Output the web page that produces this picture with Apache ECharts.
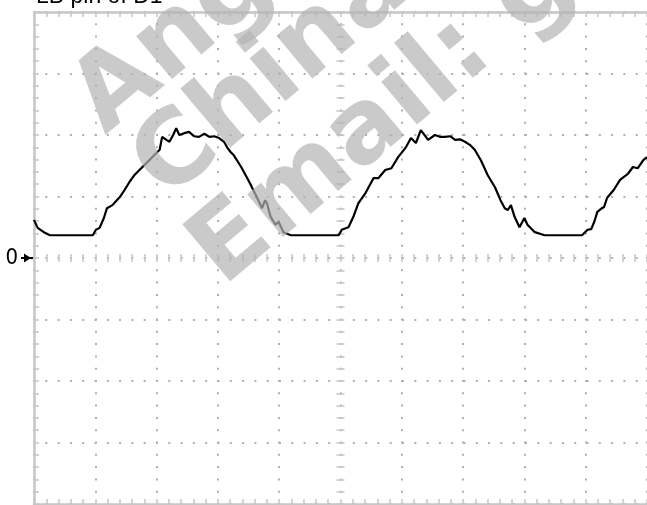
<!DOCTYPE html>
<html>
<head>
<meta charset="utf-8">
<script src="https://cdn.jsdelivr.net/npm/echarts@6/dist/echarts.min.js"></script>
<style>
  html, body { margin: 0; padding: 0; background: #fff; }
  #main { width: 647px; height: 505px; }
</style>
</head>
<body>
<div id="main"></div>
<script>
// trace, x in divisions (0..10), y in divisions (-4..4)
var traceX = [0, 0.06, 0.16, 0.26, 0.96, 1.01, 1.07, 1.14, 1.19, 1.28, 1.40, 1.48, 1.56, 1.64, 1.72, 1.80, 1.88, 1.96, 2.05, 2.09,
    2.16, 2.21, 2.27, 2.32, 2.37, 2.45, 2.53, 2.61, 2.69, 2.78, 2.86, 2.94, 3.02, 3.10, 3.15, 3.21, 3.26, 3.38, 3.51, 3.62,
    3.72, 3.77, 3.80, 3.86, 3.94, 3.99, 4.07, 4.19, 4.97, 5.02, 5.13, 5.21, 5.29, 5.41, 5.54, 5.62, 5.73, 5.83, 5.94, 6.06,
    6.15, 6.23, 6.31, 6.43, 6.54, 6.62, 6.70, 6.79, 6.87, 6.95, 7.03, 7.11, 7.19, 7.29, 7.40, 7.52, 7.61, 7.68, 7.73, 7.78,
    7.84, 7.92, 8.00, 8.05, 8.17, 8.33, 8.94, 9.03, 9.09, 9.14, 9.19, 9.25, 9.30, 9.35, 9.46, 9.56, 9.64, 9.69, 9.77, 9.85,
    9.94, 10.0];
var traceY = [0.62, 0.49, 0.42, 0.37, 0.37, 0.46, 0.49, 0.65, 0.81, 0.86, 0.99, 1.11, 1.24, 1.35, 1.43, 1.51, 1.59, 1.67, 1.76, 1.97,
    1.92, 1.89, 2.00, 2.11, 2.00, 2.03, 2.05, 1.98, 1.97, 2.02, 1.97, 1.98, 1.95, 1.89, 1.80, 1.72, 1.67, 1.48, 1.24, 1.02,
    0.81, 0.94, 0.89, 0.67, 0.54, 0.59, 0.42, 0.37, 0.37, 0.46, 0.50, 0.67, 0.89, 1.06, 1.30, 1.30, 1.43, 1.46, 1.64, 1.79,
    1.95, 1.87, 2.08, 1.92, 2.00, 1.97, 1.97, 1.98, 1.92, 1.93, 1.89, 1.84, 1.76, 1.59, 1.35, 1.15, 0.94, 0.81, 0.78, 0.86,
    0.67, 0.50, 0.65, 0.54, 0.42, 0.37, 0.37, 0.46, 0.47, 0.59, 0.75, 0.80, 0.83, 0.98, 1.11, 1.27, 1.33, 1.37, 1.48, 1.46,
    1.59, 1.64];
var titleText = 'LB pin of D1';
var markText = ['Ang', 'China', 'Email: g'];

var gridColor = '#c6c6c6';
var dotColor = '#b0b0b0';

var traceData = [];
for (var i = 0; i < traceX.length; i++) {
    traceData.push([traceX[i], traceY[i]]);
}

// axis helper - border or center line with minor ticks
function scaleAxis(opt) {
    var a = {
        type: 'value',
        min: opt.min,
        max: opt.max,
        interval: 1,
        position: opt.position,
        show: opt.show !== false,
        axisLine: {
            show: !!opt.line,
            onZero: opt.zeroIndex != null,
            onZeroAxisIndex: opt.zeroIndex,
            lineStyle: { color: gridColor, width: 2.5 }
        },
        axisTick: { show: true, inside: opt.inside, length: opt.len, lineStyle: { color: gridColor, width: 1.5 } },
        minorTick: { show: true, splitNumber: 5, length: opt.len, lineStyle: { color: gridColor, width: 1.5 } },
        axisLabel: { show: false },
        splitLine: { show: false }
    };
    if (opt.split) {
        a.splitLine = { show: true, lineStyle: { color: dotColor, width: 2, type: [2, 10.3], dashOffset: 1 } };
    }
    return a;
}

var xAxes = [
    scaleAxis({ min: 0, max: 10, position: 'bottom', line: true, inside: true, len: 5, split: true }),
    scaleAxis({ min: 0, max: 10, position: 'top', line: true, inside: true, len: 5 }),
    scaleAxis({ min: 0, max: 10, position: 'bottom', inside: true, len: 4, zeroIndex: 0 }),
    scaleAxis({ min: 0, max: 10, position: 'bottom', inside: false, len: 4, zeroIndex: 0 }),
    // hidden helper so the vertical center line sits at x = 5
    { type: 'value', min: -5, max: 5, show: false, axisLine: { onZero: false } }
];
var yAxes = [
    scaleAxis({ min: -4, max: 4, position: 'left', line: true, inside: true, len: 5, split: true }),
    scaleAxis({ min: -4, max: 4, position: 'left', inside: true, len: 4, zeroIndex: 4 }),
    scaleAxis({ min: -4, max: 4, position: 'left', inside: false, len: 4, zeroIndex: 4 })
];
// zero label on the left
yAxes[0].axisLabel = {
    show: true,
    margin: 16,
    color: '#000',
    fontSize: 22,
    fontFamily: '"Liberation Sans Narrow", "DejaVu Sans Condensed", sans-serif',
    formatter: function (v) { return v === 0 ? '0' : ''; }
};

var graphics = [
    {
        type: 'text', left: 36, top: -15, z: 10,
        style: { text: titleText, fill: '#000', fontSize: 23, fontFamily: 'Arial, "Liberation Sans", sans-serif' }
    },
    {
        type: 'polygon', z: 10,
        shape: { points: [[24, 253.5], [31, 258], [24, 262.5]] },
        style: { fill: '#000' }
    },
    {
        type: 'line', z: 10,
        shape: { x1: 21, y1: 258, x2: 33, y2: 258 },
        style: { stroke: '#000', lineWidth: 2 }
    }
];
// watermark
var markPos = [[88, 115], [149, 181], [206, 267]];
for (var k = 0; k < markText.length; k++) {
    graphics.push({
        type: 'text', x: markPos[k][0], y: markPos[k][1], rotation: 40 * Math.PI / 180, z: 100,
        style: {
            text: markText[k],
            fill: 'rgba(180,180,180,0.7)',
            fontSize: 102,
            fontWeight: 'bold',
            fontFamily: '"DejaVu Sans", sans-serif',
            verticalAlign: 'middle'
        }
    });
}

var chart = echarts.init(document.getElementById('main'));
chart.setOption({
    animation: false,
    backgroundColor: '#fff',
    grid: { left: 34, top: 12, right: -3, bottom: 1, containLabel: false },
    xAxis: xAxes,
    yAxis: yAxes,
    graphic: graphics,
    series: [{
        type: 'line',
        xAxisIndex: 0,
        yAxisIndex: 0,
        data: traceData,
        showSymbol: false,
        symbol: 'none',
        lineStyle: { color: '#000', width: 2.2 },
        z: 5
    }]
});
</script>
</body>
</html>
